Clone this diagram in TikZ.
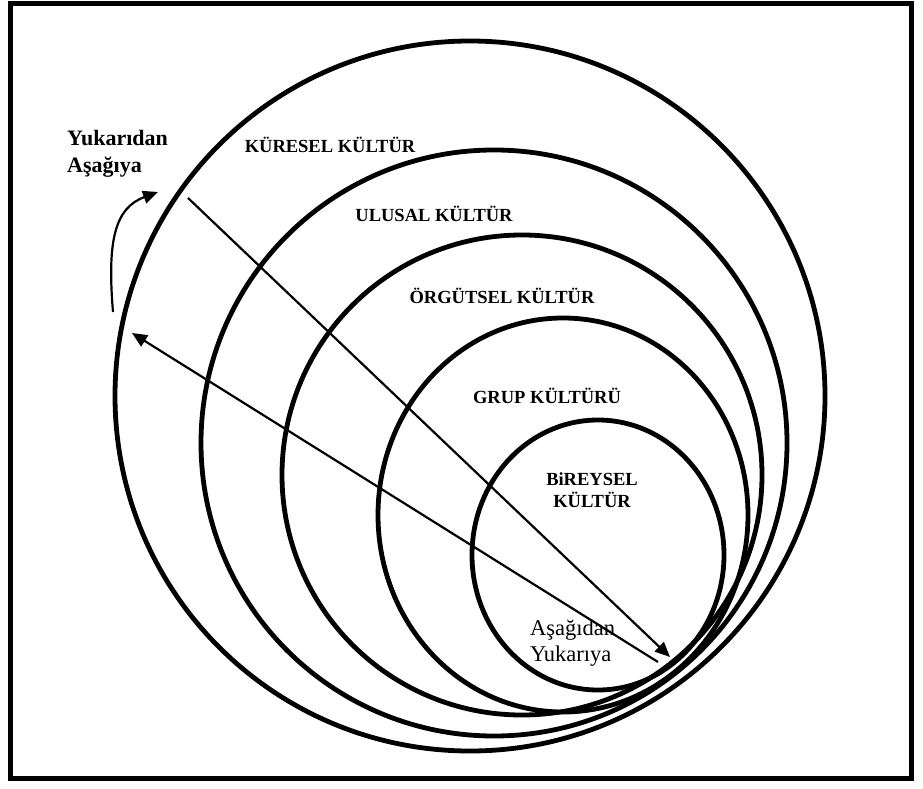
\documentclass[tikz,border=0pt]{standalone}
\usepackage{fontspec}
\setmainfont{Liberation Serif}
\usetikzlibrary{arrows.meta}
\tikzset{
  ring/.style={line width=4.8pt},
  capslabel/.style={anchor=base,inner sep=0pt,font=\fontsize{18.5}{22}\selectfont\bfseries},
  dirlabel/.style={anchor=base west,inner sep=0pt,font=\fontsize{22.5}{26}\selectfont},
  dirlabelbold/.style={anchor=base west,inner sep=0pt,font=\fontsize{22}{26}\selectfont\bfseries},
  dirarrow/.style={line width=2.2pt,-{Triangle[length=15pt,width=13pt]}},
}
\begin{document}
\begin{tikzpicture}[x=1pt,y=-1pt]
\useasboundingbox (0,0) rectangle (923,789);
% frame
\draw[line width=5pt] (10.5,3.5) rectangle (911,778);
% nested circles
\draw[ring] (470,396) circle [radius=355];
\draw[ring] (494,443) circle [radius=293];
\draw[ring] (522,475) circle [radius=240];
\draw[ring] (563,515) ellipse [x radius=185, y radius=197];
\draw[ring] (598,555) ellipse [x radius=126, y radius=135];
% labels
\node[capslabel] (kuresel) at (330,153) {KÜRESEL KÜLTÜR};
\node[capslabel] (ulusal) at (434,221) {ULUSAL KÜLTÜR};
\node[capslabel] (orgutsel) at (502,303) {ÖRGÜTSEL KÜLTÜR};
\node[capslabel] (grup) at (547,403) {GRUP KÜLTÜRÜ};
\node[capslabel] (bireysel1) at (592,485) {BiREYSEL};
\node[capslabel] (bireysel2) at (592,507) {KÜLTÜR};
\node[dirlabelbold] (yuk1) at (67,146) {Yukarıdan};
\node[dirlabelbold] (yuk2) at (67,172) {Aşağıya};
\node[dirlabel] (asa1) at (530,635) {Aşağıdan};
\node[dirlabel] (asa2) at (530,661) {Yukarıya};
% arrows
\coordinate (d1s) at (188,198);
\coordinate (d1e) at (670,657);
\coordinate (u1s) at (658,662);
\coordinate (u1e) at (132,333);
\coordinate (cs) at (113,312);
\coordinate (ce) at (158,192);
\draw[dirarrow] (d1s) -- (d1e);
\draw[dirarrow] (u1s) -- (u1e);
\draw[dirarrow] (cs) .. controls (107,240) and (115,208) .. (ce);
\end{tikzpicture}
\end{document}
